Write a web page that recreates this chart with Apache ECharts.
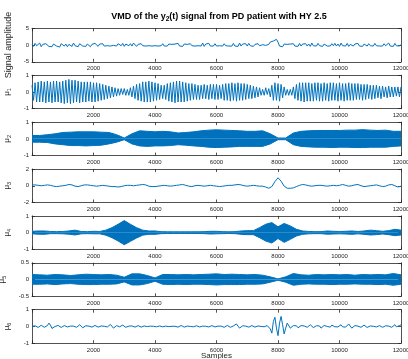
<!DOCTYPE html>
<html>
<head>
<meta charset="utf-8">
<script src="https://cdn.jsdelivr.net/npm/echarts@6/dist/echarts.min.js"></script>
<style>
  html, body { margin: 0; padding: 0; background: #fff; }
  #chart { width: 408px; height: 359px; }
</style>
</head>
<body>
<div id="chart"></div>
<script>
// sample axis
const xTicks = [2000, 4000, 6000, 8000, 10000, 12000];
const FINE_STEP = 50;    // samples between values in the line series
const MID_STEP = 100;
const BAND_STEP = 250;   // envelope samples for the dense modes
const U4_STEP = 200;

// raw signal y2(t)
const signalVals = [
  0.3,-0.4,0.5,-0.2,0.1,0.6,-0.5,0.2,-0.3,0.4,0.7,-0.4,0.1,-0.5,0.3,0.6,-0.3,0.2,-0.6,0.4,
  0.8,-0.3,0.3,-0.5,0.2,0.5,-0.4,0.6,-0.2,0.1,-0.5,0.4,0.7,-0.3,0.2,-0.4,0.3,0.6,-0.5,0.2,
  -0.3,0.5,0.1,-0.4,0.3,-0.2,0.4,-0.3,0.2,-0.2,0.3,-0.3,0.2,-0.1,0.3,-0.3,0.4,0.6,-0.2,0.5,
  -0.4,0.3,0.8,-0.2,0.4,-0.3,0.6,0.9,-0.4,0.2,-0.3,0.4,-0.2,0.3,-0.3,0.2,-0.2,0.3,-0.3,0.2,
  -0.2,0.3,-0.3,0.2,-0.2,0.4,-0.3,0.2,-0.3,0.3,-0.2,0.2,-0.3,0.3,-0.2,0.5,-0.3,0.2,-0.4,0.3,
  -0.2,0.2,-0.3,0.4,-0.2,0.3,-0.3,0.2,-0.2,0.3,-0.3,0.6,-0.4,0.3,-0.2,0.5,-0.3,0.2,-0.3,0.4,
  -0.3,0.2,-0.2,0.3,-0.3,0.4,-0.2,0.3,-0.3,0.2,-0.3,0.5,-0.3,0.2,-0.4,0.6,-0.3,0.3,-0.2,0.4,
  -0.3,0.5,-0.2,0.3,-0.4,0.2,-0.3,0.4,-0.2,0.3,0.1,0.6,-0.1,0.4,0.2,0.9,0.7,1.2,0.8,1.7,
  0.9,-0.3,0.2,-0.5,0.3,-0.2,0.2,-0.3,0.3,-0.2,0.4,-0.3,0.2,-0.4,0.5,-0.3,0.3,-0.2,0.4,-0.3,
  0.3,-0.4,0.6,-0.2,0.3,-0.3,0.5,-0.2,0.2,-0.4,0.3,0.6,-0.3,0.2,-0.3,0.4,-0.2,0.5,-0.3,0.3,
  -0.4,0.6,-0.2,0.3,-0.3,0.5,-0.4,0.2,0.6,-0.3,0.3,-0.2,0.5,-0.3,0.2,-0.4,0.3,0.6,-0.3,0.4,
  -0.2,0.3,-0.3,0.5,-0.2,0.3,-0.3,0.2,-0.3,0.4,-0.2,0.3,0.6,-0.3,0.2,-0.4,0.5,-0.2,0.3,-0.3,
  0.2
];

// mode 1 (extremes every 50 samples)
const u1Vals = [
  0.4,-0.5,0.55,-0.6,0.6,-0.6,0.65,-0.6,0.6,-0.65,0.65,-0.6,0.6,-0.65,0.65,-0.6,0.65,-0.6,0.6,-0.65,
  0.65,-0.7,0.7,-0.65,0.75,-0.7,0.7,-0.65,0.7,-0.6,0.65,-0.65,0.6,-0.6,0.6,-0.6,0.6,-0.55,0.6,-0.6,
  0.55,-0.6,0.55,-0.55,0.5,-0.5,0.45,-0.45,0.4,-0.4,0.35,-0.35,0.3,-0.3,0.25,-0.25,0.2,-0.2,0.2,-0.15,
  0.2,-0.2,0.15,-0.2,0.25,-0.3,0.35,-0.4,0.45,-0.5,0.5,-0.55,0.6,-0.6,0.6,-0.6,0.65,-0.6,0.6,-0.55,
  0.55,-0.5,0.5,-0.45,0.4,-0.4,0.4,-0.45,0.5,-0.55,0.55,-0.6,0.6,-0.65,0.65,-0.6,0.65,-0.6,0.6,-0.6,
  0.55,-0.55,0.5,-0.5,0.5,-0.45,0.45,-0.45,0.4,-0.45,0.4,-0.4,0.45,-0.4,0.4,-0.45,0.45,-0.4,0.45,-0.45,
  0.45,-0.45,0.4,-0.4,0.45,-0.5,0.5,-0.5,0.5,-0.55,0.55,-0.5,0.5,-0.55,0.55,-0.5,0.5,-0.5,0.5,-0.45,
  0.45,-0.4,0.4,-0.4,0.35,-0.35,0.3,-0.3,0.25,-0.2,0.15,-0.2,0.25,-0.15,0.2,-0.3,0.4,-0.5,0.55,-0.5,
  0.5,-0.55,0.45,-0.35,0.3,-0.2,0.15,-0.2,0.15,-0.2,0.3,-0.4,0.45,-0.5,0.55,-0.55,0.55,-0.6,0.55,-0.55,
  0.55,-0.55,0.5,-0.55,0.55,-0.5,0.55,-0.55,0.5,-0.55,0.55,-0.5,0.5,-0.55,0.55,-0.5,0.55,-0.5,0.5,-0.55,
  0.55,-0.5,0.5,-0.55,0.5,-0.5,0.55,-0.5,0.5,-0.5,0.5,-0.45,0.5,-0.45,0.45,-0.5,0.45,-0.45,0.45,-0.4,
  0.4,-0.45,0.4,-0.4,0.4,-0.35,0.35,-0.4,0.35,-0.3,0.3,-0.35,0.35,-0.3,0.3,-0.3,0.3,-0.25,0.3,-0.3,
  0.3
];

// mode 2 envelope (every 250 samples)
const u2Upper = [
  0.2,0.2,0.25,0.3,0.38,0.4,0.42,0.42,0.42,0.4,0.38,0.25,0.05,0.3,0.48,0.45,0.42,0.45,0.42,0.35,
  0.38,0.42,0.48,0.52,0.54,0.52,0.5,0.48,0.45,0.45,0.48,0.3,0.05,0.05,0.35,0.45,0.48,0.5,0.5,0.5,
  0.5,0.52,0.52,0.55,0.52,0.5,0.52,0.45,0.45
];
const u2Lower = [
  -0.2,-0.2,-0.22,-0.3,-0.35,-0.4,-0.4,-0.42,-0.4,-0.38,-0.3,-0.2,-0.05,-0.3,-0.42,-0.45,-0.42,-0.42,-0.4,-0.35,
  -0.38,-0.42,-0.45,-0.5,-0.52,-0.5,-0.48,-0.45,-0.45,-0.45,-0.45,-0.3,-0.05,-0.05,-0.35,-0.45,-0.48,-0.5,-0.5,-0.52,
  -0.5,-0.5,-0.52,-0.52,-0.5,-0.5,-0.5,-0.45,-0.42
];

// mode 3 (every 100 samples)
const u3Vals = [
  0.1,0.1,0.05,0,0.05,0.1,0.05,-0.05,-0.1,-0.05,0,0.05,0.15,0.1,-0.05,-0.1,0,0.1,0.1,0.05,
  0,-0.05,0,0.05,0,-0.05,-0.1,-0.1,-0.15,-0.1,0,0.05,0.05,0,0.05,0.1,0.15,0.1,-0.05,-0.1,
  -0.1,-0.05,0,0.05,0,-0.05,0,0.05,0.1,0.15,0.05,-0.05,-0.1,0,0.05,0,-0.05,0,0.05,0,
  -0.05,-0.1,-0.05,0,0.05,0.05,0.1,0.15,0.1,0,-0.05,0,0.05,0,-0.05,-0.05,-0.15,-0.3,-0.1,0.5,
  0.95,0.55,-0.05,-0.3,-0.3,-0.25,-0.1,0.05,0.15,0.1,0,-0.05,0,0.05,0.05,0,-0.05,0,0.05,0,
  0.05,0.15,0.05,-0.05,0,0.1,0.15,0,-0.1,-0.05,0,0.05,0.1,0,-0.1,-0.05,0.1,0.15,0,-0.15,
  -0.05
];

// mode 4 envelope (every 200 samples)
const u4Upper = [
  0.08,0.1,0.1,0.07,0.06,0.07,0.1,0.15,0.07,0.06,0.08,0.07,0.15,0.3,0.5,0.72,0.5,0.3,0.15,0.1,
  0.1,0.06,0.05,0.05,0.05,0.05,0.05,0.05,0.06,0.08,0.08,0.06,0.05,0.06,0.1,0.12,0.12,0.3,0.5,0.6,
  0.35,0.55,0.4,0.2,0.1,0.07,0.06,0.06,0.1,0.08,0.07,0.08,0.1,0.07,0.1,0.15,0.12,0.08,0.12,0.2,
  0.15
];
const u4Lower = [
  -0.07,-0.09,-0.1,-0.06,-0.06,-0.07,-0.09,-0.14,-0.07,-0.06,-0.07,-0.07,-0.15,-0.3,-0.5,-0.72,-0.52,-0.32,-0.15,-0.1,
  -0.1,-0.06,-0.05,-0.05,-0.05,-0.05,-0.05,-0.05,-0.06,-0.08,-0.07,-0.06,-0.05,-0.06,-0.1,-0.12,-0.12,-0.3,-0.5,-0.62,
  -0.35,-0.58,-0.4,-0.2,-0.1,-0.07,-0.06,-0.06,-0.09,-0.08,-0.07,-0.08,-0.1,-0.07,-0.1,-0.14,-0.12,-0.08,-0.12,-0.18,
  -0.14
];

// mode 5 envelope (every 250 samples)
const u5Upper = [
  0.15,0.14,0.13,0.15,0.14,0.12,0.14,0.16,0.15,0.14,0.15,0.13,0.07,0.17,0.17,0.12,0.05,0.15,0.15,0.14,
  0.15,0.14,0.15,0.16,0.17,0.15,0.16,0.15,0.14,0.15,0.13,0.08,0.02,0.08,0.18,0.14,0.13,0.15,0.14,0.15,
  0.14,0.15,0.13,0.15,0.14,0.15,0.14,0.18,0.14
];
const u5Lower = [
  -0.14,-0.14,-0.13,-0.15,-0.13,-0.12,-0.14,-0.15,-0.15,-0.14,-0.14,-0.13,-0.07,-0.16,-0.16,-0.12,-0.05,-0.14,-0.15,-0.14,
  -0.15,-0.14,-0.14,-0.15,-0.16,-0.15,-0.15,-0.15,-0.14,-0.14,-0.13,-0.08,-0.02,-0.08,-0.17,-0.14,-0.13,-0.14,-0.14,-0.15,
  -0.14,-0.14,-0.13,-0.14,-0.14,-0.15,-0.14,-0.17,-0.14
];

// mode 6 (every 50 samples)
const u6Vals = [
  0,0.06,0.04,-0.04,-0.06,0.02,0.07,0.03,-0.05,-0.1,0.05,0.2,0.08,-0.12,-0.15,0,0.1,0.06,-0.04,-0.06,
  0,0.05,0.03,-0.03,-0.05,0.02,0.06,0.02,-0.04,-0.05,0.03,0.1,0.05,-0.08,-0.07,0.04,0.08,0.02,-0.05,-0.04,
  0.02,0.06,0.02,-0.04,-0.03,0.03,0.05,0.01,-0.04,-0.03,0.04,0.12,0.02,-0.1,-0.06,0.05,0.06,-0.02,-0.05,0.08,
  0.15,-0.05,-0.12,0.02,0.1,0.03,-0.06,-0.04,0.03,0.05,0,-0.04,-0.02,0.03,0.04,-0.01,-0.04,0.02,0.05,0.01,
  -0.03,-0.02,0.02,0.03,0,-0.02,-0.01,0.02,0.02,-0.01,-0.02,0.01,0.03,0.01,-0.03,-0.04,0.02,0.06,0.02,-0.04,
  -0.03,0.02,0.04,0,-0.03,-0.02,0.02,0.04,0.01,-0.03,-0.04,0.02,0.05,0.01,-0.04,-0.03,0.02,0.05,0.02,-0.03,
  -0.04,0.02,0.05,0.02,-0.04,-0.05,0.02,0.06,0.02,-0.05,-0.06,0.03,0.1,0.15,0.02,-0.1,-0.08,0.04,0.08,0.02,
  -0.05,-0.04,0.03,0.05,0,-0.04,-0.02,0.03,0.04,0,-0.03,-0.02,0.02,0.05,0.1,-0.15,-0.4,0.3,0.55,-0.1,
  -0.55,0.2,0.6,0.1,-0.45,-0.1,0.2,0.12,-0.1,-0.12,0.05,0.12,0.04,-0.08,-0.06,0.05,0.12,0.03,-0.08,-0.05,
  0.04,0.1,0.03,-0.07,-0.06,0.04,0.12,0.03,-0.1,-0.06,0.06,0.12,0,-0.1,-0.04,0.08,0.1,-0.02,-0.1,-0.03,
  0.07,0.1,-0.02,-0.1,-0.04,0.06,0.15,0.02,-0.1,-0.05,0.05,0.12,0.02,-0.08,-0.05,0.04,0.08,0,-0.06,-0.03,
  0.03,0.06,0.01,-0.04,-0.03,0.03,0.05,0,-0.05,-0.03,0.04,0.1,0.02,-0.08,-0.05,0.05,0.1,-0.02,-0.08,0.05,
  0.1
];

const COLOR = '#0072BD';
const AX = '#262626';
const FONT = 'Liberation Sans, Arial, sans-serif';

// subplot layout
const GRID_TOP = 28.3;
const GRID_STEP = 46.9;
const GRID_H = 33.5;
const GRID_L = 32;
const GRID_W = 369;

const toPts = (vals, step) => vals.map((v, i) => [i * step, v]);

const panels = [
    { lines: [[signalVals, FINE_STEP]], band: false, min: -5, max: 5, interval: 5, label: 'Signal amplitude' },
    { lines: [[u1Vals, FINE_STEP]], band: false, min: -1, max: 1, interval: 1, sub: '1' },
    { lines: [[u2Upper, BAND_STEP], [u2Lower, BAND_STEP]], band: true, min: -1, max: 1, interval: 1, sub: '2' },
    { lines: [[u3Vals, MID_STEP]], band: false, min: -2, max: 2, interval: 2, sub: '3' },
    { lines: [[u4Upper, U4_STEP], [u4Lower, U4_STEP]], band: true, min: -1, max: 1, interval: 1, sub: '4' },
    { lines: [[u5Upper, BAND_STEP], [u5Lower, BAND_STEP]], band: true, min: -0.5, max: 0.5, interval: 0.5, sub: '5' },
    { lines: [[u6Vals, FINE_STEP]], band: false, min: -1, max: 1, interval: 1, sub: '6' }
];

const grid = [], xAxis = [], yAxis = [], series = [];

const tick = { show: true, inside: true, length: 3, lineStyle: { color: AX, width: 0.8 } };
const line = { show: true, onZero: false, lineStyle: { color: AX, width: 0.8 } };

panels.forEach((p, i) => {
    grid.push({ left: GRID_L, top: GRID_TOP + i * GRID_STEP, width: GRID_W, height: GRID_H,
        containLabel: false, outerBoundsMode: 'none' });

    // bottom and top x axes (box)
    xAxis.push({
        type: 'value', gridIndex: i, min: 0, max: 12000, interval: 2000, position: 'bottom',
        axisLine: line, axisTick: tick, splitLine: { show: false },
        axisLabel: { fontSize: 6, color: AX, fontFamily: FONT, margin: 4,
            formatter: v => (xTicks.indexOf(v) >= 0 ? String(v) : '') }
    });
    xAxis.push({
        type: 'value', gridIndex: i, min: 0, max: 12000, interval: 2000, position: 'top',
        axisLine: line, axisTick: tick, splitLine: { show: false }, axisLabel: { show: false }
    });

    const name = p.label ? p.label : '{m|μ}{s|' + p.sub + '}';
    yAxis.push({
        type: 'value', gridIndex: i, min: p.min, max: p.max, interval: p.interval, position: 'left',
        axisLine: line, axisTick: tick, splitLine: { show: false },
        axisLabel: { fontSize: 6, color: AX, fontFamily: FONT, margin: 3 },
        name: name, nameLocation: 'middle', nameRotate: 90, nameGap: p.label ? 18 : 14,
        nameTextStyle: {
            fontSize: p.label ? 9 : 8, color: AX, fontFamily: FONT,
            rich: {
                m: { fontSize: 8, color: AX, fontFamily: FONT },
                s: { fontSize: 5.5, color: AX, fontFamily: FONT, padding: [5, 0, 0, 0] }
            }
        }
    });
    yAxis.push({
        type: 'value', gridIndex: i, min: p.min, max: p.max, interval: p.interval, position: 'right',
        axisLine: line, axisTick: tick, splitLine: { show: false }, axisLabel: { show: false }
    });

    p.lines.forEach(([vals, step]) => {
        series.push({
            type: 'line', xAxisIndex: i * 2, yAxisIndex: i * 2,
            data: toPts(vals, step), showSymbol: false, silent: true,
            lineStyle: { color: COLOR, width: 1 },
            areaStyle: p.band ? { color: COLOR, opacity: 1 } : undefined,
            z: 1
        });
    });
});

const chart = echarts.init(document.getElementById('chart'), null, { renderer: 'canvas' });
chart.setOption({
    animation: false,
    backgroundColor: '#fff',
    grid, xAxis, yAxis, series,
    graphic: [
        {
            type: 'text', x: 219, y: 17,
            style: {
                text: '{b|VMD of the y}{s|2}{b|(t) signal from PD patient with HY 2.5}',
                align: 'center', verticalAlign: 'middle',
                rich: {
                    b: { fontSize: 9, fontWeight: 'bold', fill: '#000', fontFamily: FONT },
                    s: { fontSize: 6.5, fontWeight: 'bold', fill: '#000', fontFamily: FONT, padding: [5, 0, 0, 0] }
                }
            }
        },
        {
            type: 'text', x: 216.5, y: 356,
            style: { text: 'Samples', align: 'center', verticalAlign: 'middle',
                fontSize: 8, fill: AX, fontFamily: FONT }
        }
    ]
});
</script>
</body>
</html>
